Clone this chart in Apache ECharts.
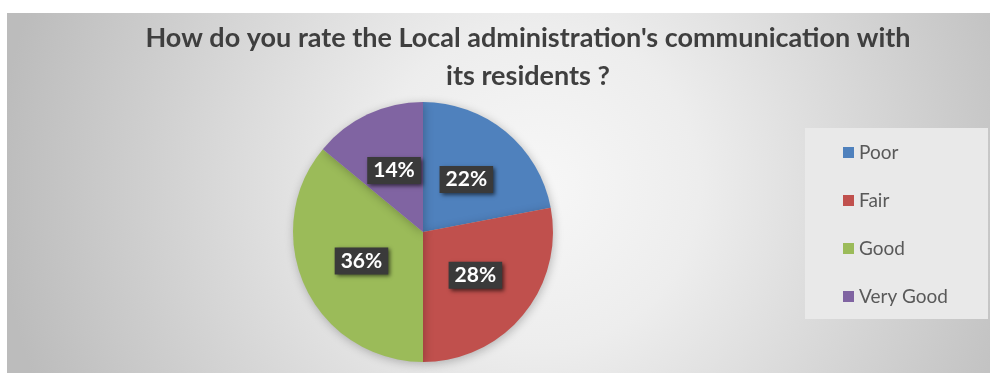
<!DOCTYPE html>
<html>
<head>
<meta charset="utf-8">
<script src="https://cdn.jsdelivr.net/npm/echarts@6/dist/echarts.min.js"></script>
<style>
  html, body { margin: 0; padding: 0; background: #ffffff; }
  #chart { position: absolute; left: 7px; top: 13px; width: 983px; height: 360px; }
</style>
</head>
<body>
<div id="chart"></div>
<script>
// Survey answers, share of respondents in percent
const categories = ['Poor', 'Fair', 'Good', 'Very Good'];
const shares = [22, 28, 36, 14];
const sliceColors = ['#4f81bd', '#c0504d', '#9bbb59', '#8064a2'];
const titleText = "How do you rate the Local administration's communication with\nits residents ?";

const chart = echarts.init(document.getElementById('chart'));

chart.setOption({
  backgroundColor: new echarts.graphic.RadialGradient(0.54, 0.48, 1.5, [
    { offset: 0, color: '#f7f7f7' },
    { offset: 0.3, color: '#ededed' },
    { offset: 1, color: '#bcbcbc' }
  ]),
  animation: false,
  title: {
    text: titleText,
    left: 516,
    textAlign: 'center',
    top: 1,
    textStyle: {
      fontFamily: 'Lato, "Open Sans", sans-serif',
      fontWeight: 'bold',
      fontSize: 27,
      lineHeight: 38,
      color: '#3f3f3f'
    }
  },
  legend: {
    orient: 'vertical',
    left: 798,
    top: 115,
    data: categories,
    icon: 'rect',
    itemWidth: 11,
    itemHeight: 11,
    itemGap: 29,
    backgroundColor: '#e9e9e9',
    padding: [15, 40, 13, 38],
    textStyle: {
      fontFamily: 'Lato, "Open Sans", sans-serif',
      fontSize: 19,
      lineHeight: 19,
      color: '#595959'
    }
  },
  series: [{
    type: 'pie',
    center: [416, 219],
    radius: [0, 130],
    startAngle: 90,
    clockwise: true,
    silent: true,
    data: categories.map((name, i) => ({
      name: name,
      value: shares[i],
      itemStyle: { color: sliceColors[i] }
    })),
    itemStyle: {
      shadowBlur: 10,
      shadowColor: 'rgba(0,0,0,0.25)',
      shadowOffsetX: 1,
      shadowOffsetY: 2
    },
    label: {
      position: 'inside',
      formatter: p => p.value + '%',
      fontFamily: 'Lato, "Open Sans", sans-serif',
      fontWeight: 'bold',
      fontSize: 21,
      color: '#ffffff',
      backgroundColor: '#3a3a3a',
      padding: [4, 6, 2, 6],
      shadowBlur: 4,
      shadowColor: 'rgba(0,0,0,0.6)',
      shadowOffsetX: 2,
      shadowOffsetY: 2
    },
    labelLine: { show: false }
  }]
});
</script>
</body>
</html>
